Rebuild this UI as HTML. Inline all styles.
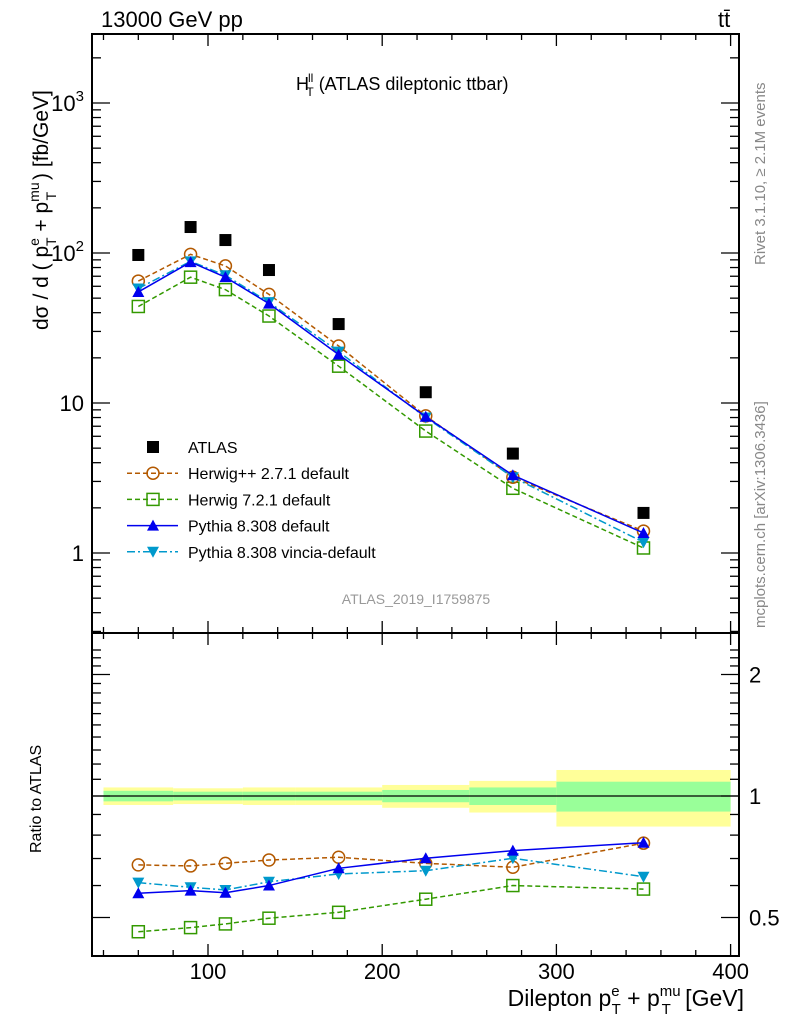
<!DOCTYPE html>
<html><head><meta charset="utf-8"><style>
body{margin:0;background:#fff;}
svg text{font-family:"Liberation Sans",sans-serif;}
</style></head><body>
<svg id="c" width="786" height="1024" xmlns="http://www.w3.org/2000/svg"></svg>
<script>
const xCenters=[60,90,110,135,175,225,275,350];
const binEdges=[40,80,100,120,150,200,250,300,400];
const atlas=[97,149,122,77,33.6,11.8,4.6,1.85];
const herwigpp=[65,98,82,53,24,8.2,3.2,1.4];
const herwig7=[44,69,57,38,17.6,6.5,2.7,1.08];
const pythia=[55,87,69,46,21,8.1,3.3,1.36];
const vincia=[58,88,71,47,22,8.0,3.2,1.18];
const rHerwigpp=[0.675,0.671,0.681,0.694,0.705,0.681,0.666,0.764];
const rHerwig7=[0.461,0.472,0.482,0.498,0.515,0.555,0.600,0.588];
const rPythia=[0.574,0.583,0.576,0.600,0.662,0.701,0.732,0.766];
const rVincia=[0.610,0.594,0.585,0.613,0.641,0.653,0.701,0.631];
const bandTotal=[0.05,0.045,0.045,0.05,0.05,0.065,0.09,0.16];
const bandStat=[0.03,0.025,0.025,0.025,0.025,0.035,0.05,0.085];
const xTicks=[100,200,300,400];
const yTicks=[{v:1000,b:"10",s:"3"},{v:100,b:"10",s:"2"},{v:10,b:"10",s:""},{v:1,b:"1",s:""}];
const rTicks=[{v:2,l:"2"},{v:1,l:"1"},{v:0.5,l:"0.5"}];

const L=92,R=739,T=34,MB=633,RB=956;
const X=v=>208+(v-100)*1.742;
const Y=v=>553-Math.log10(v)*150;
const RY=v=>796-Math.log2(v)*121.5;
const svg=document.getElementById('c');
const NS="http://www.w3.org/2000/svg";
function el(t,a,p){const e=document.createElementNS(NS,t);for(const k in a)e.setAttribute(k,a[k]);(p||svg).appendChild(e);return e;}
function txt(s,a,p){const e=el('text',a,p);e.innerHTML=s;return e;}

const gb=el('g',{});


for(let i=0;i<8;i++){
 const x1=X(binEdges[i]),x2=X(binEdges[i+1]);
 el('rect',{x:x1,y:RY(1+bandTotal[i]),width:x2-x1,height:RY(1-bandTotal[i])-RY(1+bandTotal[i]),fill:'#ffff99'},gb);
 el('rect',{x:x1,y:RY(1+bandStat[i]),width:x2-x1,height:RY(1-bandStat[i])-RY(1+bandStat[i]),fill:'#99ff99'},gb);
}
el('line',{x1:L,x2:R,y1:RY(1),y2:RY(1),stroke:'#000','stroke-width':1.2});

const f1=el('rect',{x:L,y:T,width:R-L,height:MB-T,fill:'none',stroke:'#000','stroke-width':2});

const f2=el('rect',{x:L,y:MB,width:R-L,height:RB-MB,fill:'none',stroke:'#000','stroke-width':2});


for(let v=40;v<=400;v+=20){
 const big=v%100===0, x=X(v), len=big?12:6;
 for(const [y0,d] of [[T,1],[MB,-1],[MB,1],[RB,-1]]) el('line',{x1:x,x2:x,y1:y0,y2:y0+d*len,stroke:'#000','stroke-width':1.3});
}
xTicks.forEach(v=>{const t=txt(v,{x:X(v),y:979,'font-size':22,'text-anchor':'middle'});});
for(let d=-1;d<=3;d++)for(let m=1;m<10;m++){
 const v=m*Math.pow(10,d), y=Y(v); if(y<T||y>MB) continue;
 const len=m===1?18:9;
 el('line',{x1:L,x2:L+len,y1:y,y2:y,stroke:'#000','stroke-width':1.3});
 el('line',{x1:R,x2:R-len,y1:y,y2:y,stroke:'#000','stroke-width':1.3});
}
yTicks.forEach(o=>{const t=txt(o.b+(o.s?'<tspan font-size="15" dy="-10">'+o.s+'</tspan>':''),{x:L-8,y:Y(o.v)+8,'font-size':22,'text-anchor':'end'});});
for(let v=0.4;v<=2.4;v+=0.1){
 const y=RY(v); if(y<MB||y>RB) continue;
 const major=Math.abs(v-0.5)<1e-6||Math.abs(v-1)<1e-6||Math.abs(v-2)<1e-6;
 const len=major?18:9;
 el('line',{x1:L,x2:L+len,y1:y,y2:y,stroke:'#000','stroke-width':1.3});
 el('line',{x1:R,x2:R-len,y1:y,y2:y,stroke:'#000','stroke-width':1.3});
}
rTicks.forEach(o=>{const t=txt(o.l,{x:R+10,y:RY(o.v)+8,'font-size':22});});

function marker(type,x,y,col,g){
 if(type==='sq') el('rect',{x:x-6,y:y-6,width:12,height:12,fill:'#000'},g);
 else if(type==='circ') el('circle',{cx:x,cy:y,r:6,fill:'none',stroke:col,'stroke-width':1.5},g);
 else if(type==='osq') el('rect',{x:x-6,y:y-6,width:12,height:12,fill:'none',stroke:col,'stroke-width':1.5},g);
 else if(type==='up') el('polygon',{points:`${x-6},${y+5} ${x+6},${y+5} ${x},${y-6}`,fill:col},g);
 else if(type==='dn') el('polygon',{points:`${x-6},${y-5} ${x+6},${y-5} ${x},${y+6}`,fill:col},g);
}
function series(name,vals,yf,col,dash,type,line){
 const g=el('g',{});
 
 
 if(line) el('polyline',{points:vals.map((v,i)=>X(xCenters[i])+','+yf(v)).join(' '),fill:'none',stroke:col,'stroke-width':1.5,'stroke-dasharray':dash},g);
 vals.forEach((v,i)=>marker(type,X(xCenters[i]),yf(v),col,g));
}
series('herwig7-main',herwig7,Y,'#339900','5,3','osq',1);
series('herwigpp-main',herwigpp,Y,'#b35900','5,3','circ',1);
series('vincia-main',vincia,Y,'#0099cc','8,3,2,3','dn',1);
series('pythia-main',pythia,Y,'#0000ee','none','up',1);
series('atlas-data',atlas,Y,'#000','none','sq',0);
series('herwig7-ratio',rHerwig7,RY,'#339900','5,3','osq',1);
series('herwigpp-ratio',rHerwigpp,RY,'#b35900','5,3','circ',1);
series('vincia-ratio',rVincia,RY,'#0099cc','8,3,2,3','dn',1);
series('pythia-ratio',rPythia,RY,'#0000ee','none','up',1);

const leg=[['ATLAS','sq','#000','none'],['Herwig++ 2.7.1 default','circ','#b35900','5,3'],['Herwig 7.2.1 default','osq','#339900','5,3'],['Pythia 8.308 default','up','#0000ee','none'],['Pythia 8.308 vincia-default','dn','#0099cc','8,3,2,3']];
leg.forEach((l,i)=>{
 const y=447+i*26.2, g=el('g',{});
 
 
 if(i>0) el('line',{x1:127,x2:178,y1:y,y2:y,stroke:l[2],'stroke-width':1.5,'stroke-dasharray':l[3]},g);
 marker(l[1],153,y,l[2],g);
 txt(l[0],{x:188,y:y+6,'font-size':16},g);
});

const a=txt('13000 GeV pp',{x:101,y:27,'font-size':22});
const b=txt('tt̄',{x:718,y:27,'font-size':22});
const c=txt('H<tspan dx="-1" dy="-8" font-size="12">ll</tspan><tspan dx="-7" dy="14" font-size="12">T</tspan><tspan dy="-6"> (ATLAS dileptonic ttbar)</tspan>',{x:296,y:90,'font-size':18});
const d=txt('ATLAS_2019_I1759875',{x:416,y:604,'font-size':14,fill:'#999','text-anchor':'middle'});
const e=txt('dσ / d ( p<tspan font-size="14" dy="-9">e</tspan><tspan font-size="14" dx="-8" dy="17">T</tspan><tspan dy="-8"> + p</tspan><tspan font-size="14" dy="-9">mu</tspan><tspan font-size="14" dx="-18" dy="17">T</tspan><tspan dy="-8" dx="6"> ) [fb/GeV]</tspan>',{x:0,y:0,'font-size':21,transform:'translate(48,330) rotate(-90)'});
const f=txt('Ratio to ATLAS',{x:0,y:0,'font-size':16,transform:'translate(41,853) rotate(-90)'});
const g=txt('Dilepton p<tspan font-size="15" dy="-10">e</tspan><tspan font-size="15" dx="-8" dy="18">T</tspan><tspan dy="-8"> + p</tspan><tspan font-size="15" dy="-10">mu</tspan><tspan font-size="15" dx="-19" dy="18">T</tspan><tspan dy="-8" dx="8"> [GeV]</tspan>',{x:744,y:1006,'font-size':23,'text-anchor':'end'});
const h=txt('Rivet 3.1.10, ≥ 2.1M events',{x:0,y:0,'font-size':15,fill:'#888',transform:'translate(765,265) rotate(-90)'});
const k=txt('mcplots.cern.ch [arXiv:1306.3436]',{x:0,y:0,'font-size':15,fill:'#888',transform:'translate(765,628) rotate(-90)'});
</script>
</body></html>
